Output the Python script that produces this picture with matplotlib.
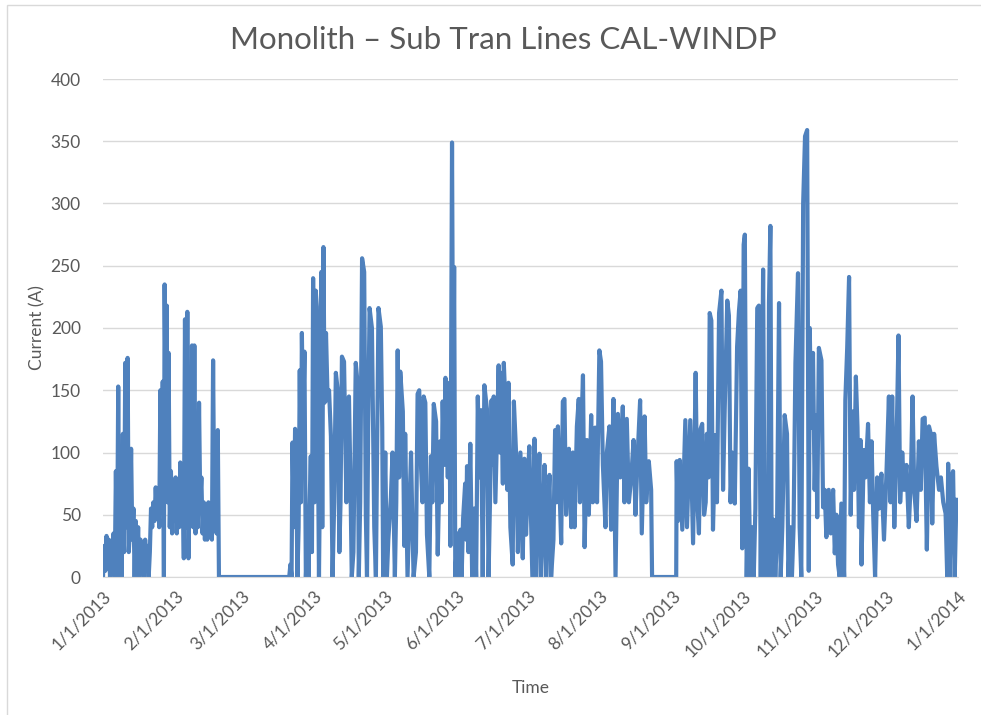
import matplotlib
matplotlib.use("Agg")
import matplotlib.pyplot as plt
import pandas as pd
from matplotlib.patches import Rectangle

plt.rcParams["font.family"] = ["Lato", "DejaVu Sans"]

TITLE = "Monolith \u2013 Sub Tran Lines CAL-WINDP"
START = "2013-01-01"
END = "2014-01-01"

# (day of year, current in A), one list per quarter
Q1 = [
    (0, 0), (0.5, 25), (1, 5), (1.5, 33), (2, 10), (2.5, 30), (3, 0), (3.5, 28),
    (4, 15), (4.5, 35), (5, 0), (5.5, 85), (6, 10), (6.5, 153), (7, 0), (7.5, 30),
    (8, 0), (8.5, 115), (9, 20), (9.5, 172), (10, 40), (10.5, 176), (11, 20),
    (11.5, 40), (12, 103), (12.5, 30), (13, 55), (13.5, 0), (14, 45), (14.5, 10),
    (15, 40), (15.5, 0), (16, 30), (16.5, 5), (17, 25), (17.5, 0), (18, 30),
    (18.5, 10), (19, 25), (19.5, 0), (20, 20), (20.5, 55), (21, 40), (21.5, 60),
    (22, 45), (22.5, 72), (23, 50), (23.5, 70), (24, 40), (24.5, 150), (25, 60),
    (25.5, 157), (26, 0), (26.3, 235), (26.8, 120), (27.2, 218), (27.6, 60),
    (28, 180), (28.5, 40), (29, 85), (29.5, 35), (30, 70), (30.5, 45),
    (31, 80), (31.5, 35), (32, 65), (32.5, 40), (33, 92), (33.5, 50), (34, 75),
    (34.5, 15), (35, 207), (35.5, 40), (36, 213), (36.5, 15), (37, 80), (37.5, 50),
    (38, 186), (38.5, 40), (39, 186), (39.5, 35), (40, 75), (40.5, 40), (41, 140),
    (41.5, 60), (42, 80), (42.5, 35), (43, 60), (43.5, 30), (44, 55), (44.5, 30),
    (45, 60), (45.5, 35), (46, 50), (46.5, 30), (47, 174), (47.5, 50), (48, 55),
    (48.5, 35), (49, 118), (49.5, 0), (79.5, 0), (80, 10), (80.5, 0), (80.9, 108),
    (81.5, 40), (82, 119), (82.5, 85), (83, 0), (83.5, 40), (84, 166), (84.5, 60),
    (84.9, 196), (85.4, 120), (86, 181), (86.6, 0), (87.3, 30), (87.8, 0),
    (88.1, 51), (88.7, 97), (89.2, 20),
]
Q2 = [
    (89.7, 240), (90.3, 60), (90.8, 230), (91.3, 217), (92.2, 0), (92.7, 100),
    (93.2, 245), (93.6, 40), (94.1, 265), (94.6, 140), (95.2, 196), (95.9, 142),
    (96.5, 150), (97.3, 113), (98, 0), (98.7, 60), (99.4, 164), (100.2, 150),
    (100.9, 20), (101.4, 60), (102, 177), (102.9, 173), (103.9, 60), (104.5, 140),
    (105, 145), (105.6, 80), (106.2, 0), (106.9, 20), (107.9, 172), (108.7, 155),
    (109.2, 0), (109.8, 60), (110.6, 256), (111.5, 245), (112.2, 50), (112.7, 0),
    (113.2, 120), (113.8, 216), (114.8, 200), (115.8, 40), (116.5, 0), (117, 100),
    (117.6, 216), (118.6, 201), (119.2, 120), (119.6, 0), (120.5, 100), (121.2, 0),
    (121.8, 30), (122.9, 64), (123.6, 100), (124.6, 0), (125.2, 60), (125.8, 182),
    (126.4, 80), (126.9, 165), (128, 133), (128.6, 25), (129, 115), (130, 0),
    (130.8, 54), (131.5, 100), (132.1, 40), (132.6, 0), (133.6, 20), (134.3, 147),
    (135, 150), (135.8, 87), (136.4, 60), (136.9, 145), (137.6, 140), (138.3, 34),
    (139.3, 0), (140, 97), (140.6, 60), (141.2, 139), (142.2, 125), (142.9, 18),
    (143.9, 109), (144.5, 60), (145, 141), (145.6, 90), (146.2, 160), (147.2, 80),
    (147.9, 156), (148.3, 25), (149, 349), (149.5, 120), (149.9, 249), (150.4, 0),
    (151.2, 35), (151.7, 0), (152.6, 38), (153.1, 0), (153.7, 46), (154.6, 75),
    (155, 30), (155.4, 89), (156, 20), (156.8, 107), (157.6, 0), (158.5, 55),
    (159.3, 0), (160, 145), (160.7, 80), (161.4, 134), (162.1, 0), (162.8, 154),
    (163.9, 135), (164.6, 0), (165.2, 60), (165.9, 142), (166.4, 90), (166.8, 145),
    (167.5, 60), (168.9, 170), (169.4, 100), (169.9, 164), (170.7, 75), (171.1, 172),
    (172.1, 125), (172.6, 70), (173.1, 156), (173.9, 40), (174.9, 10), (175.4, 141),
    (176.4, 97), (177.1, 20), (178.2, 100), (179.2, 15), (179.9, 95), (180.6, 34),
    (181.6, 89),
]
Q3 = [
    (182, 105), (182.8, 40), (183.3, 0), (184.2, 111), (184.9, 0), (185.6, 60),
    (186.3, 99), (187, 0), (187.7, 40), (188.5, 90), (189.2, 0), (189.9, 50),
    (190.6, 82), (191.3, 0), (192.3, 30), (193, 118), (193.6, 60), (194.2, 121),
    (194.9, 70), (195.6, 27), (196.3, 141), (197, 143), (197.7, 50), (198.3, 80),
    (198.9, 103), (199.9, 40), (200.6, 100), (201.3, 40), (202.3, 121), (203.1, 143),
    (203.6, 60), (204.1, 110), (204.9, 162), (205.6, 24), (206.6, 110), (207.4, 50),
    (208.4, 130), (209.1, 60), (210.1, 120), (210.9, 60), (211.9, 182), (212.6, 173),
    (213.4, 90), (214.5, 40), (215.1, 100), (216.2, 121), (216.9, 38), (217.9, 143),
    (218.8, 0), (219.8, 131), (220.8, 80), (221.9, 137), (222.6, 60), (223.6, 127),
    (224.5, 60), (225.5, 80), (226.5, 110), (227.3, 50), (228.3, 100), (229.3, 142),
    (230, 35), (231.2, 129), (231.9, 60), (233, 93), (234, 70), (234.4, 0),
    (244.7, 0), (244.9, 93), (245.4, 45), (246.2, 94), (247.3, 38), (248.6, 126),
    (249.3, 40), (250.7, 126), (251.9, 27), (253, 164), (253.7, 60), (254.4, 35),
    (255.1, 119), (255.8, 123), (256.6, 50), (257.3, 60), (257.8, 115), (258.5, 80),
    (259, 212), (259.7, 206), (260.4, 38), (261.4, 114), (262.1, 60), (263, 212),
    (264, 230), (264.7, 70), (265.4, 134), (266.5, 222), (267.2, 210), (267.9, 60),
    (268.6, 100), (269.7, 59), (270.7, 185), (271.5, 214), (272.2, 230), (272.9, 23),
]
Q4 = [
    (273.5, 267), (274, 275), (274.8, 0), (275.6, 87), (276.4, 0), (277.2, 40),
    (277.8, 0), (278.5, 55), (279.3, 216), (280, 218), (280.8, 0), (281.8, 247),
    (282.5, 0), (283.2, 40), (283.9, 0), (284.3, 220), (284.9, 282), (285.5, 0),
    (286.3, 46), (287, 0), (287.7, 30), (288.6, 220), (289.3, 0), (290, 40),
    (291, 130), (292, 115), (292.6, 0), (293.4, 40), (294.1, 0), (294.8, 40),
    (295.6, 172), (296.7, 244), (297.4, 40), (298.1, 0), (298.9, 300), (299.7, 354),
    (300.6, 359), (301.3, 5), (301.7, 200), (302.4, 120), (303.1, 180), (303.8, 70),
    (304.5, 130), (304.9, 48), (305.6, 184), (306.7, 174), (307.4, 56), (308.1, 70),
    (308.8, 32), (309.8, 70), (310.7, 35), (311.7, 70), (312.4, 19), (313.1, 50),
    (313.8, 10), (314.5, 0), (315.2, 59), (316.4, 0), (316.9, 142), (317.7, 184),
    (318.5, 241), (319.2, 50), (319.9, 133), (320.6, 70), (321.4, 161), (322.1, 120),
    (322.7, 40), (323.4, 110), (323.8, 10), (324.8, 102), (325.5, 80), (326.6, 123),
    (327.4, 60), (328.1, 109), (328.8, 50), (329.6, 0), (330.5, 80), (331.3, 55),
    (332.3, 83), (333.4, 30), (334.4, 80), (335.5, 145), (336.2, 60), (336.9, 145),
    (337.8, 40), (338.7, 100), (339.6, 194), (340.3, 60), (341.2, 100), (342, 70),
    (343, 90), (344, 40), (344.9, 80), (345.6, 145), (346.3, 70), (347.3, 45),
    (348.3, 109), (349.1, 70), (349.9, 127), (350.8, 128), (351.7, 22), (352.6, 121),
    (353.4, 115), (354, 43), (354.8, 115), (355.8, 89), (356.9, 70), (357.7, 80),
    (358.7, 60), (359.7, 51), (360.4, 0), (360.8, 91), (361.5, 0), (362.2, 80),
    (362.9, 85), (363.6, 0), (364.3, 62),
]

GREY_TEXT = "#595959"
GRID = "#D9D9D9"
LINE = "#4F81BD"

df = pd.DataFrame(Q1 + Q2 + Q3 + Q4, columns=["day", "amps"])
df["time"] = pd.Timestamp(START) + pd.to_timedelta(df["day"], unit="D")

fig = plt.figure(figsize=(9.81, 7.15), dpi=100)
ax = fig.add_axes([103 / 981, 1 - 577 / 715, 855 / 981, 498 / 715])

ax.plot(df["time"], df["amps"], color=LINE, lw=3.0, solid_joinstyle="round")

ax.set_ylim(0, 400)
ax.set_yticks(range(0, 401, 50))
ax.set_xlim(pd.Timestamp(START), pd.Timestamp(END))
ticks = pd.date_range(START, END, freq="MS")
ax.set_xticks(ticks)
ax.set_xticklabels([f"{t.month}/{t.day}/{t.year}" for t in ticks],
                   rotation=45, ha="right", rotation_mode="anchor")

ax.grid(axis="y", color=GRID, lw=1)
ax.set_axisbelow(True)
for side in ["top", "right", "left"]:
    ax.spines[side].set_visible(False)
ax.spines["bottom"].set_color(GRID)
ax.tick_params(axis="both", length=0, colors=GREY_TEXT, labelsize=12.5)
ax.tick_params(axis="y", pad=16)
ax.tick_params(axis="x", pad=8)

ax.set_ylabel("Current (A)", color=GREY_TEXT, fontsize=12.5, labelpad=4)
ax.set_xlabel("Time", color=GREY_TEXT, fontsize=12.5, labelpad=14)
fig.text(0.513, 1 - 40 / 715, TITLE, ha="center", va="center",
         fontsize=22.5, color=GREY_TEXT)

# chart border
fig.add_artist(Rectangle((7 / 981, -0.05), 1.0, 1 - 5 / 715 + 0.05,
                         transform=fig.transFigure, fill=False,
                         edgecolor=GRID, lw=1))

fig.savefig("out.png", dpi=100)
